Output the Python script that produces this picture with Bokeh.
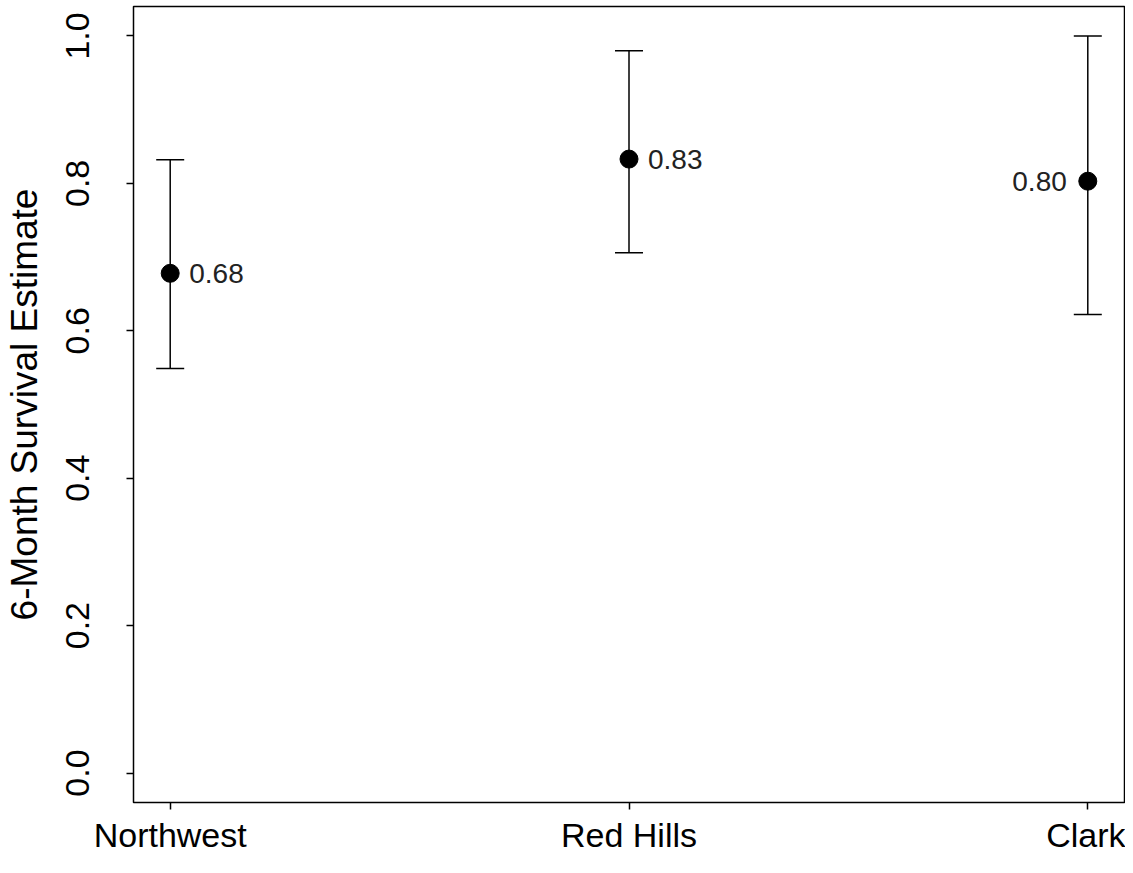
from bokeh.plotting import figure
from bokeh.models import ColumnDataSource, FixedTicker, Whisker, TeeHead
from bokeh.core.properties import value
from bokeh.embed import file_html
from bokeh.resources import INLINE

sites = ["Northwest", "Red Hills", "Clark"]
site_pos = [1, 2, 3]
estimates = [0.678, 0.833, 0.803]
lower = [0.549, 0.706, 0.622]
upper = [0.832, 0.980, 1.0]
labels = ["0.68", "0.83", "0.80"]
y_ticks = [0.0, 0.2, 0.4, 0.6, 0.8, 1.0]

FONT = "Liberation Sans"

p = figure(width=1125, height=857, output_backend="svg", toolbar_location=None,
           x_range=(0.92, 3.08), y_range=(-0.04, 1.04),
           min_border_left=133, min_border_right=1, min_border_top=6, min_border_bottom=55)
p.background_fill_color = "white"
p.border_fill_color = "white"
p.outline_line_color = "black"
p.outline_line_width = 1.5
p.xgrid.visible = False
p.ygrid.visible = False

src = ColumnDataSource(dict(x=site_pos, y=estimates, lo=lower, hi=upper, lab=labels))

w = Whisker(source=src, base="x", lower="lo", upper="hi", dimension="height",
            line_color="black", line_width=1.5,
            upper_head=TeeHead(size=28, line_color="black", line_width=1.5),
            lower_head=TeeHead(size=28, line_color="black", line_width=1.5))
p.add_layout(w)

p.scatter("x", "y", source=src, size=18, color="black")

left_src = ColumnDataSource(dict(x=site_pos[:2], y=estimates[:2], lab=labels[:2]))
right_src = ColumnDataSource(dict(x=site_pos[2:], y=estimates[2:], lab=labels[2:]))
p.text("x", "y", text="lab", source=left_src, x_offset=19, text_align="left",
       text_baseline="middle", text_font=value(FONT), text_font_size="28px", text_color="#222222")
p.text("x", "y", text="lab", source=right_src, x_offset=-21, text_align="right",
       text_baseline="middle", text_font=value(FONT), text_font_size="28px", text_color="#222222")

for ax in (p.xaxis[0], p.yaxis[0]):
    ax.axis_line_color = None
    ax.major_tick_line_color = "black"
    ax.major_tick_line_width = 1.5
    ax.major_tick_out = 7
    ax.major_tick_in = 0
    ax.minor_tick_line_color = None
    ax.major_label_text_font = FONT
    ax.major_label_text_font_size = "34px"
    ax.major_label_text_color = "black"

p.xaxis.ticker = FixedTicker(ticks=site_pos)
p.xaxis.major_label_overrides = {k: s for k, s in zip(site_pos, sites)}
p.xaxis.major_label_standoff = 6

p.yaxis.ticker = FixedTicker(ticks=y_ticks)
p.yaxis.major_label_overrides = {t: f"{t:.1f}" for t in y_ticks}
p.yaxis.major_label_orientation = "vertical"
p.yaxis.major_label_standoff = 37
p.yaxis.axis_label = "6-Month Survival Estimate"
p.yaxis.axis_label_text_font = FONT
p.yaxis.axis_label_text_font_size = "37px"
p.yaxis.axis_label_text_font_style = "normal"
p.yaxis.axis_label_text_color = "black"
p.yaxis.axis_label_standoff = 19

open("out.html", "w").write(file_html(p, INLINE))
